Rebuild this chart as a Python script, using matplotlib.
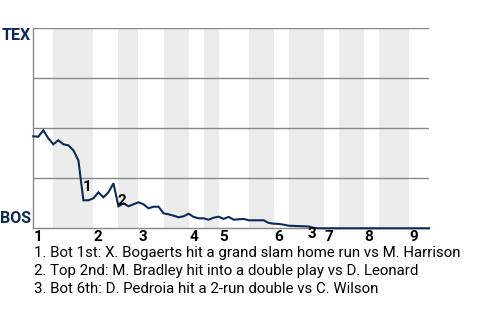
"""Win probability chart, BOS vs TEX."""
import matplotlib
matplotlib.use("Agg")
import matplotlib.pyplot as plt

# TEX win probability after each plate appearance
win_prob = [
    0.46, 0.458, 0.49, 0.45, 0.42, 0.44, 0.42, 0.415, 0.39, 0.34,
    0.14, 0.14, 0.15, 0.18, 0.155, 0.18, 0.225, 0.11, 0.125, 0.11,
    0.12, 0.13, 0.12, 0.10, 0.108, 0.108, 0.075, 0.07, 0.063, 0.055,
    0.06, 0.073, 0.057, 0.05, 0.05, 0.043, 0.053, 0.058, 0.047, 0.057,
    0.043, 0.045, 0.047, 0.04, 0.04, 0.04, 0.04, 0.027, 0.023, 0.022,
    0.018, 0.013, 0.012, 0.011, 0.01, 0.009, 0.002, 0.0, 0.0, 0.0,
    0.0, 0.0, 0.0, 0.0, 0.0, 0.0, 0.0, 0.0, 0.0, 0.0,
    0.0, 0.0, 0.0, 0.0, 0.0, 0.0, 0.0, 0.0, 0.0, 0.0,
]
# plate-appearance index where each inning's top and bottom half start
top_starts = [0, 12, 21, 31, 37, 48, 58, 66, 75]
bottom_starts = [4, 17, 26, 34, 43, 51, 61, 69]
game_end = 79
inning_labels = ["1", "2", "3", "4", "5", "6", "7", "8", "9"]

# key events: marker label, position (PA index, win prob)
event_labels = ["1", "2", "3"]
event_x = [10.7, 17.7, 55.7]
event_y = [0.208, 0.138, -0.03]
event_notes = [
    "1. Bot 1st: X. Bogaerts hit a grand slam home run vs M. Harrison",
    "2. Top 2nd: M. Bradley hit into a double play vs D. Leonard",
    "3. Bot 6th: D. Pedroia hit a 2-run double vs C. Wilson",
]

navy = "#0b2a5c"
font = ["Roboto", "DejaVu Sans"]

fig = plt.figure(figsize=(4.8, 3.2), dpi=100)
ax = fig.add_axes([33.3 / 480, 91.7 / 320, 395.7 / 480, 200 / 320])

# shade bottom halves
ends = top_starts[1:] + [game_end]
for b, e in zip(bottom_starts, ends):
    ax.axvspan(b, e, color="#ececec", lw=0, zorder=0)

for g in [0.25, 0.5, 0.75, 1.0]:
    ax.axhline(g, color="#888888", lw=1, zorder=1)

ax.plot(range(len(win_prob)), win_prob, color=navy, lw=1.5, zorder=3,
        solid_joinstyle="miter", clip_on=False)

ax.set_xlim(0, game_end)
ax.set_ylim(0, 1)
ax.set_xticks([])
ax.set_yticks([])
for s in ["top", "right"]:
    ax.spines[s].set_visible(False)
for s in ["left", "bottom"]:
    ax.spines[s].set_color("#888888")
    ax.spines[s].set_linewidth(1)

for x, lab in zip(top_starts, inning_labels):
    ax.text(x + 0.1, -0.045, lab, ha="left", va="center", fontsize=11,
            fontweight="bold", family=font, clip_on=False)

for lab, x, y in zip(event_labels, event_x, event_y):
    ax.text(x, y, lab, ha="center", va="center", fontsize=11,
            fontweight="bold", family=font, clip_on=False, zorder=4)

ax.text(-0.6, 1.0, "TEX", ha="right", va="top", fontsize=11.5,
        fontweight="bold", color=navy, family=font)
ax.text(-0.4, 0.01, "BOS", ha="right", va="bottom", fontsize=11.5,
        fontweight="bold", color=navy, family=font)

for i, note in enumerate(event_notes):
    fig.text(33.5 / 480, 1 - (253.3 + 18 * i) / 320, note, ha="left",
             va="center", fontsize=10.8, family=font)

fig.savefig("out.png", dpi=100)
